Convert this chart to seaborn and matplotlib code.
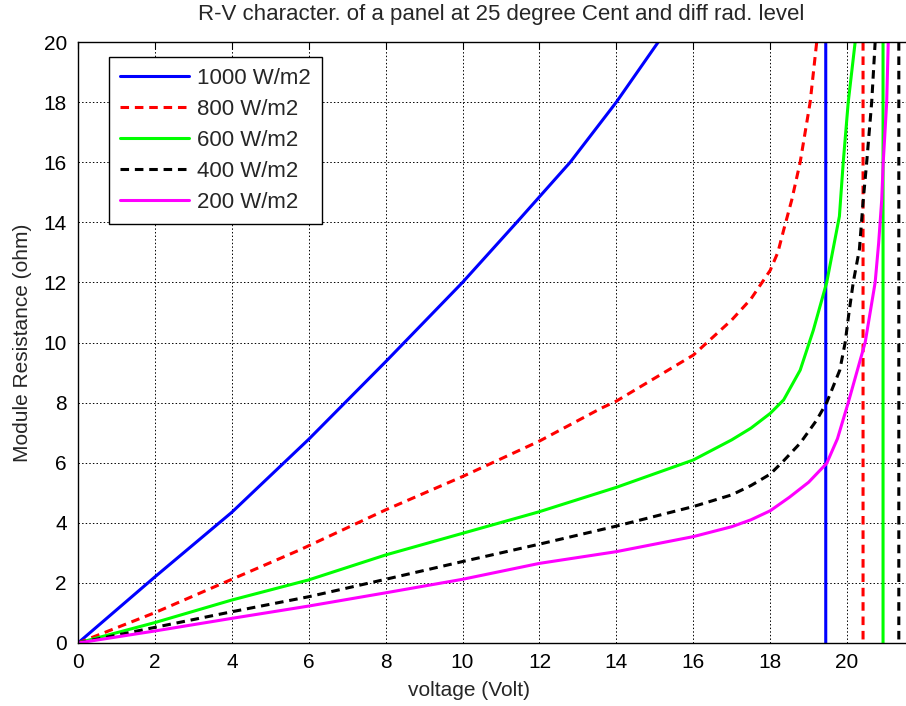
import numpy as np
import pandas as pd
import matplotlib
matplotlib.use("Agg")
import matplotlib.pyplot as plt
import seaborn as sns

# Module resistance R = V / I along each irradiance curve (25 degC)
levels = ["1000 W/m2", "800 W/m2", "600 W/m2", "400 W/m2", "200 W/m2"]

v_1000 = [0, 2, 4, 6, 8, 10, 11.41, 12.8, 14.0, 15.09, 16, 17, 18, 19, 19.44, 19.45]
r_1000 = [0, 2.2, 4.35, 6.78, 9.36, 12, 14, 16, 18, 20, 22.5, 27, 38, 110, 5000, -5000]

v_800 = [0, 2, 4, 5.77, 8, 10, 12, 13.6, 14, 16, 17, 17.5, 18, 18.2, 18.35, 18.56, 18.78,
         19.04, 19.21, 19.6, 20, 20.41, 20.42]
r_800 = [0, 1.01, 2.12, 3.1, 4.43, 5.54, 6.72, 7.81, 8.05, 9.58, 10.75, 11.45, 12.4, 13.0,
         13.74, 14.74, 16, 18, 20, 30, 80, 5000, -5000]

v_600 = [0, 2, 4, 6, 8, 10, 12, 14, 16, 17, 17.5, 18, 18.35, 18.78, 19.12, 19.47, 19.8,
         19.9, 20.03, 20.21, 20.6, 20.93, 20.94]
r_600 = [0, 0.68, 1.43, 2.1, 2.93, 3.65, 4.37, 5.18, 6.09, 6.76, 7.15, 7.64, 8.09, 9.08,
         10.4, 12, 14.2, 16, 18, 20, 40, 5000, -5000]

v_400 = [0, 2, 4, 6, 8, 10, 12, 14, 16, 17, 17.5, 17.74, 18, 18.34, 18.78, 19.2, 19.47,
         19.81, 19.95, 20.05, 20.16, 20.32, 20.42, 20.51, 20.64, 20.73, 21.0, 21.34, 21.35]
r_400 = [0, 0.52, 1.04, 1.54, 2.12, 2.71, 3.29, 3.89, 4.54, 4.93, 5.24, 5.42, 5.62, 6.05,
         6.65, 7.4, 8.0, 9.08, 10.0, 11.0, 12, 13.1, 14.74, 16, 18, 20, 35, 5000, -5000]

v_200 = [0, 2, 4, 6, 8, 10, 12, 14, 16, 17, 17.5, 18, 18.5, 19, 19.47, 19.75, 20.03, 20.25,
         20.47, 20.6, 20.73, 20.82, 20.9, 20.94, 21.03, 21.07, 21.3, 21.6, 21.61]
r_200 = [0, 0.4, 0.82, 1.23, 1.67, 2.12, 2.65, 3.04, 3.54, 3.87, 4.1, 4.4, 4.85, 5.35,
         5.98, 6.8, 8.0, 9.0, 10, 11, 12, 13.3, 14.74, 16, 18, 20, 40, 5000, -5000]

x_ticks = list(range(0, 21, 2))
y_ticks = list(range(0, 21, 2))

series = {
    "1000 W/m2": (v_1000, r_1000),
    "800 W/m2": (v_800, r_800),
    "600 W/m2": (v_600, r_600),
    "400 W/m2": (v_400, r_400),
    "200 W/m2": (v_200, r_200),
}
colors = {"1000 W/m2": "#0000ff", "800 W/m2": "#ff0000", "600 W/m2": "#00ff00",
          "400 W/m2": "#000000", "200 W/m2": "#ff00ff"}
dashed = {"1000 W/m2": False, "800 W/m2": True, "600 W/m2": False,
          "400 W/m2": True, "200 W/m2": False}

sns.set_style("white")
plt.rcParams["font.family"] = ["Liberation Sans", "DejaVu Sans"]
plt.rcParams["font.size"] = 15

fig = plt.figure(figsize=(9.06, 7.06), dpi=100)
ax = fig.add_axes([78 / 906, 63 / 706, 846 / 906, 601 / 706])

for name in levels:
    v, r = series[name]
    df = pd.DataFrame({"V": v, "R": r})
    sns.lineplot(data=df, x="V", y="R", ax=ax, sort=False, estimator=None,
                 color=colors[name], linewidth=2.2, label=name)
    if dashed[name]:
        ax.lines[-1].set_dashes((2.8, 1.9))

ax.set_xlim(0, 22)
ax.set_ylim(0, 20)
ax.set_xticks(x_ticks)
ax.set_yticks(y_ticks)
ax.tick_params(direction="in", length=5, width=0.8, top=True, right=True,
               labelsize=15, colors="black")
ax.tick_params(axis="x", pad=7)
ax.tick_params(axis="y", pad=8)
for s in ax.spines.values():
    s.set_color("black")
    s.set_linewidth(1.0)
ax.grid(True, color="black", linestyle=(0, (1.5, 2.2)), linewidth=0.7)

ax.set_title("R-V character. of a panel at 25 degree Cent and diff rad. level",
             fontsize=16, pad=16)
ax.set_xlabel("voltage (Volt)", fontsize=15)
ax.set_ylabel("Module Resistance (ohm)", fontsize=15)
ax.xaxis.set_label_coords(0.462, -0.064)
ax.yaxis.set_label_coords(-0.054, 0.5)

leg = ax.legend(loc="upper left", bbox_to_anchor=(31 / 846, 586 / 601), borderaxespad=0,
                fancybox=False, framealpha=1, edgecolor="black", fontsize=16,
                handlelength=3.1, labelspacing=0.45, borderpad=0.5, handletextpad=0.35)
leg.get_frame().set_linewidth(1.0)

fig.savefig("out.png", dpi=100)
